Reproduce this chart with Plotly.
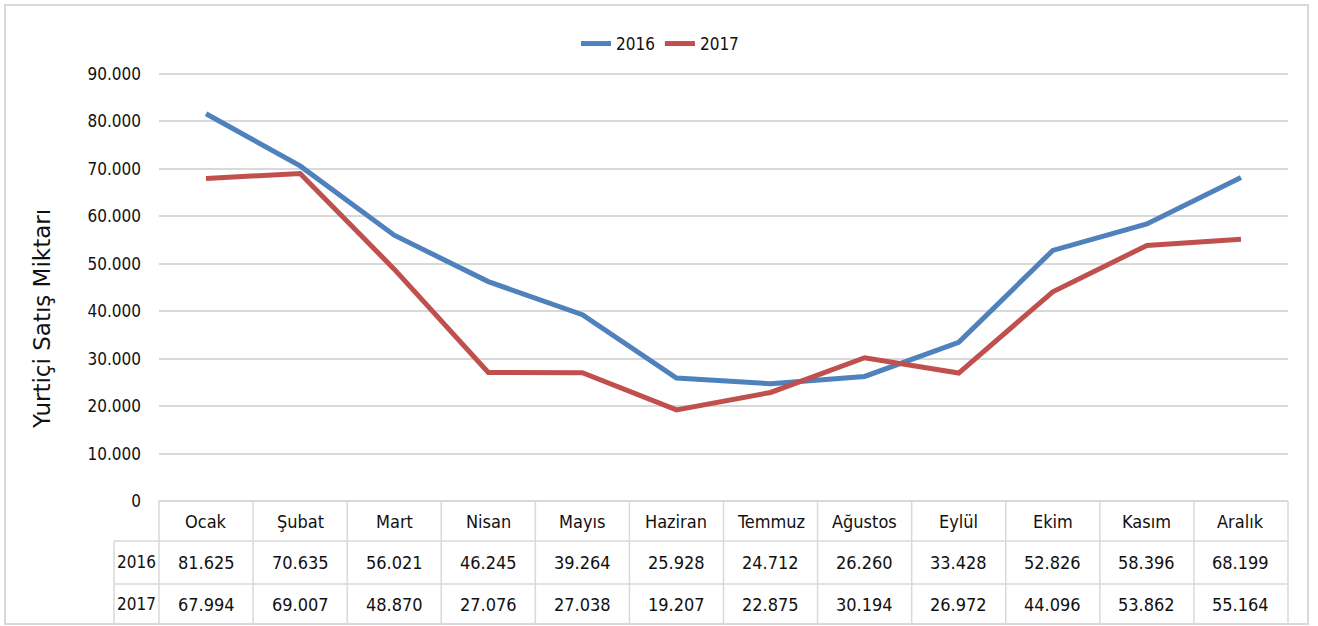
import plotly.graph_objects as go

months = ["Ocak", "Şubat", "Mart", "Nisan", "Mayıs", "Haziran", "Temmuz",
          "Ağustos", "Eylül", "Ekim", "Kasım", "Aralık"]
sales_2016 = [81625, 70635, 56021, 46245, 39264, 25928, 24712, 26260, 33428, 52826, 58396, 68199]
sales_2017 = [67994, 69007, 48870, 27076, 27038, 19207, 22875, 30194, 26972, 44096, 53862, 55164]
series_names = ["2016", "2017"]
y_ticks = list(range(0, 90001, 10000))

W, H = 1318, 626
# plot area in pixels (incl. 3px pad above 90.000 and below 0)
L, R, T, B = 159, 1288, 71, 504
PW, PH = R - L, B - T
Y_MAX = 90000
PAD_UNITS = 3 * Y_MAX / 427.0
FONT = "Liberation Sans Narrow, DejaVu Sans Condensed, Arial Narrow, sans-serif"
GRID = "#D9D9D9"
TXT = "#111111"


def px_x(p):
    return (p - L) / PW


def px_y(p):
    return (B - p) / PH


def fmt(v):
    return f"{v:,}".replace(",", ".")


fig = go.Figure()
colors = ["#4F81BD", "#C0504D"]
for name, vals, c in zip(series_names, [sales_2016, sales_2017], colors):
    fig.add_trace(go.Scatter(x=months, y=vals, name=name, mode="lines",
                             line=dict(color=c, width=5), hoverinfo="x+y"))

shapes = []
# outer border
shapes.append(dict(type="rect", xref="paper", yref="paper",
                   x0=px_x(5), x1=px_x(1308), y0=px_y(5), y1=px_y(624),
                   line=dict(color=GRID, width=2), fillcolor="rgba(0,0,0,0)", layer="below"))
for ry in [541, 584, 624]:
    shapes.append(dict(type="line", xref="paper", yref="paper",
                       x0=px_x(114), x1=1, y0=px_y(ry), y1=px_y(ry),
                       line=dict(color=GRID, width=1.5)))
shapes.append(dict(type="line", xref="paper", yref="paper",
                   x0=px_x(114), x1=px_x(114), y0=px_y(541), y1=px_y(624),
                   line=dict(color=GRID, width=1.5)))
for i in range(len(months) + 1):
    shapes.append(dict(type="line", xref="paper", yref="paper",
                       x0=i / len(months), x1=i / len(months), y0=px_y(501), y1=px_y(624),
                       line=dict(color=GRID, width=1.5)))

annotations = []
row_y = {"head": 521, "2016": 562, "2017": 604}
tf = dict(family=FONT, size=18, color=TXT)
for i, m in enumerate(months):
    annotations.append(dict(x=m, xref="x", y=px_y(row_y["head"]), yref="paper", text=m,
                            showarrow=False, xanchor="center", yanchor="middle", font=tf))
    annotations.append(dict(x=m, xref="x", y=px_y(row_y["2016"]), yref="paper",
                            text=fmt(sales_2016[i]), showarrow=False,
                            xanchor="center", yanchor="middle", font=tf))
    annotations.append(dict(x=m, xref="x", y=px_y(row_y["2017"]), yref="paper",
                            text=fmt(sales_2017[i]), showarrow=False,
                            xanchor="center", yanchor="middle", font=tf))
for name in series_names:
    annotations.append(dict(x=px_x(136.5), xref="paper", y=px_y(row_y[name]), yref="paper",
                            text=name, showarrow=False, xanchor="center", yanchor="middle",
                            font=dict(family=FONT, size=17, color=TXT)))
annotations.append(dict(x=px_x(42), xref="paper", y=px_y(319), yref="paper",
                        text="Yurtiçi Satış Miktarı", textangle=-90, showarrow=False,
                        xanchor="center", yanchor="middle",
                        font=dict(family="DejaVu Sans, Verdana, sans-serif", size=23, color=TXT)))

fig.update_layout(
    width=W, height=H,
    margin=dict(l=L, r=W - R, t=T, b=H - B, pad=0),
    paper_bgcolor="white", plot_bgcolor="white",
    separators=",.",
    font=dict(family=FONT, size=17, color=TXT),
    showlegend=True,
    legend=dict(orientation="h", x=px_x(660), xanchor="center", y=px_y(44), yanchor="middle",
                font=dict(family=FONT, size=17, color=TXT), bgcolor="rgba(0,0,0,0)",
                itemwidth=30, tracegroupgap=0),
    xaxis=dict(type="category", range=[-0.5, len(months) - 0.5], showticklabels=False,
               showgrid=False, zeroline=False, showline=False, ticks=""),
    yaxis=dict(range=[-PAD_UNITS, Y_MAX + PAD_UNITS], tickvals=y_ticks, tickformat=",d",
               showgrid=True, gridcolor=GRID, gridwidth=2, zeroline=False, showline=False,
               ticks="", ticklabelstandoff=17, tickfont=dict(family=FONT, size=17, color=TXT)),
    shapes=shapes, annotations=annotations,
)

fig.write_html("out.html", config={"displayModeBar": False},
               post_script="document.body.style.margin='0px';")
